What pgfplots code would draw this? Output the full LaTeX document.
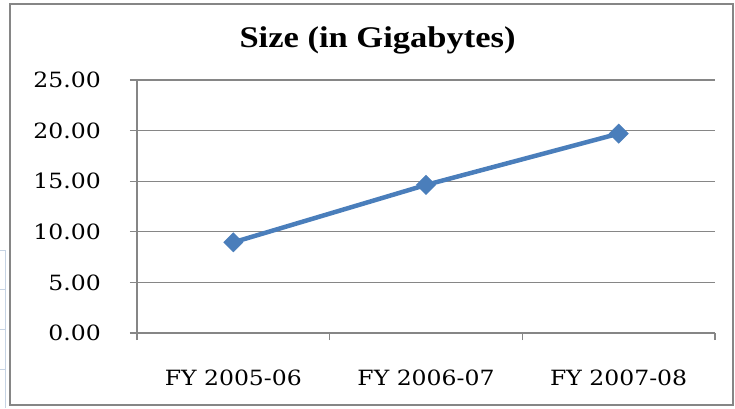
\documentclass[border=0pt]{standalone}
\usepackage{pgfplots}
\pgfplotsset{compat=1.18}
\usepackage{fontspec}
\setmainfont{DejaVu Serif}[FakeStretch=1.12]
\newfontfamily\titlefont{Liberation Serif}[FakeStretch=1.15]
\definecolor{lineblue}{RGB}{74,126,187}
\definecolor{gridgray}{RGB}{134,134,134}
\definecolor{cellblue}{RGB}{198,211,227}
\begin{document}
\begin{tikzpicture}[x=1bp,y=1bp]
\useasboundingbox (-137,-75) rectangle (598,333);
\fill[white] (-137,-75) rectangle (598,333);
% spreadsheet cell borders peeking out at left
\draw[cellblue, line width=1bp] (-131,83) -- (-131,-75);
\foreach \yy in {83,44,4,-36} {\draw[cellblue, line width=1bp] (-137,\yy) -- (-131,\yy);}
% chart frame
\draw[gridgray, line width=1.3bp] (-127,-72) rectangle (596,329);
\begin{axis}[
  at={(0,0)}, anchor=south west,
  scale only axis, width=578bp, height=253bp,
  xmin=-0.5, xmax=2.5, ymin=0, ymax=25,
  axis x line*=bottom, axis y line*=left,
  axis line style={gridgray, line width=1.3bp, -},
  xtick={0,1,2},
  xticklabels={FY 2005-06, FY 2006-07, FY 2007-08},
  minor xtick={-0.5,0.5,1.5,2.5},
  major x tick style={draw=none},
  minor x tick style={gridgray, line width=1.3bp},
  ytick={0,5,10,15,20,25},
  major y tick style={gridgray, line width=1.3bp},
  tick align=outside,
  major tick length=7bp, minor tick length=7bp,
  ymajorgrids=true,
  major grid style={gridgray, line width=1.3bp},
  tick label style={font=\fontsize{21bp}{25bp}\selectfont, inner sep=0pt},
  xticklabel style={anchor=north, yshift=-30bp},
  yticklabel style={anchor=east, xshift=-29bp},
  /pgf/number format/.cd, fixed, fixed zerofill, precision=2, assume math mode=true,
]
\addplot[lineblue, line width=4.5bp, mark=square*, mark size=6.8bp,
  mark options={solid, rotate=45, fill=lineblue, draw=lineblue, line width=0.5bp}]
  coordinates {(0,8.96) (1,14.63) (2,19.70)};
\end{axis}
\node[anchor=base] at (240.5,286) {\titlefont\bfseries\fontsize{30bp}{34bp}\selectfont Size (in Gigabytes)};
\end{tikzpicture}
\end{document}
